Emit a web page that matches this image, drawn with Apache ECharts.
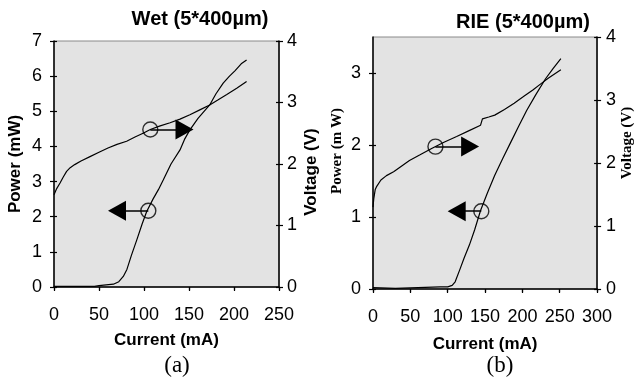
<!DOCTYPE html>
<html>
<head>
<meta charset="utf-8">
<script src="https://cdn.jsdelivr.net/npm/echarts@6/dist/echarts.min.js"></script>
<style>
  html, body { margin: 0; padding: 0; background: #fff; }
  #chart { width: 636px; height: 383px; }
</style>
</head>
<body>
<div id="chart"></div>
<script>
// (a) wet etched: [current mA, power mW] and [current mA, voltage V]
const wetPower = [
    [0, 0.02], [20, 0.02], [45, 0.02], [50, 0.04], [58, 0.06], [66, 0.08], [72, 0.15],
    [77, 0.3], [81, 0.5], [86, 0.9], [92, 1.34], [98, 1.8], [103, 2.15], [110, 2.5],
    [116, 2.77], [121.5, 3.05], [130, 3.5], [140, 3.9], [145, 4.2], [151, 4.47],
    [160, 4.8], [173, 5.18], [180, 5.5], [188, 5.8], [195, 6.0], [201, 6.15],
    [208, 6.35], [214, 6.46],
];
const wetVoltage = [
    [0, 1.5], [3, 1.6], [6.7, 1.69], [10, 1.78], [14, 1.88], [18, 1.94], [23, 1.99],
    [30, 2.05], [40, 2.12], [50, 2.19], [60, 2.26], [70, 2.32], [80.7, 2.37], [90, 2.44],
    [99, 2.5], [107, 2.56], [118, 2.62], [129, 2.67], [140, 2.73], [151, 2.8],
    [162, 2.88], [173, 2.96], [182, 3.04], [192, 3.13], [203, 3.23], [214, 3.34],
];
// (b) RIE
const riePower = [
    [0, 0.02], [30, 0.01], [60, 0.02], [90, 0.03], [100, 0.03], [106, 0.05], [110, 0.1],
    [116.6, 0.28], [122, 0.43], [129, 0.61], [136, 0.82], [144, 1.09], [153, 1.33],
    [163, 1.58], [174, 1.82], [184.5, 2.04], [195, 2.26], [205.7, 2.48], [218, 2.7],
    [231, 2.92], [241, 3.06], [251.5, 3.2],
];
const rieVoltage = [
    [0, 1.3], [1, 1.43], [3, 1.58], [5, 1.63], [10.6, 1.73], [18, 1.8], [27.6, 1.86],
    [38, 1.95], [48.8, 2.04], [63, 2.13], [78.5, 2.23], [95, 2.33], [112, 2.42],
    [128, 2.51], [144, 2.6], [146, 2.61], [146.5, 2.7], [155, 2.73], [163, 2.76],
    [176, 2.85], [189, 2.95], [201, 3.05], [214, 3.16], [225, 3.26], [235, 3.35],
    [251.5, 3.48],
];

// annotation circles [current, value] and arrow head positions (current)
const wetVoltCircle = [107, 2.56], wetVoltArrowTo = 145;
const wetPowCircle = [104.8, 2.17], wetPowArrowTo = 70;
const rieVoltCircle = [83.6, 2.26], rieVoltArrowTo = 130;
const riePowCircle = [145, 1.08], riePowArrowTo = 112;

const wetXTicks = [0, 250, 50];
const rieXTicks = [0, 300, 50];
const titles = ['Wet (5*400µm)', 'RIE (5*400µm)'];
const captions = ['(a)', '(b)'];

const sans = '"Liberation Sans", Arial, sans-serif';
const serif = '"Liberation Serif", "Times New Roman", serif';

const axisLabel = (margin, extra) => ({
    color: '#000', fontFamily: sans, fontSize: 18, margin, ...extra,
});
const tickOut = {show: true, length: 4, lineStyle: {color: '#000', width: 1.2}};
const tickIn = {show: true, inside: true, length: 3, lineStyle: {color: '#000', width: 1.2}};
const line = {show: true, lineStyle: {color: '#000', width: 1.5}};

function xAxes(gridIndex, [min, max, interval], nameGap, margin) {
    const base = {type: 'value', gridIndex, min, max, interval, splitLine: {show: false}};
    return [{
        ...base,
        name: 'Current (mA)', nameLocation: 'middle', nameGap,
        nameTextStyle: {fontFamily: sans, fontWeight: 'bold', fontSize: 17, color: '#000'},
        axisLine: line, axisTick: tickOut, axisLabel: axisLabel(margin),
    }, {
        ...base, axisLine: {show: false}, axisTick: tickIn, axisLabel: {show: false},
    }];
}

function yAxes(gridIndex, position, min, max, name, nameGap, nameFont, margin, padding, custom) {
    const base = {type: 'value', gridIndex, position, min, max, interval: 1, splitLine: {show: false}};
    const lbl = axisLabel(margin);
    const tOut = {...tickOut}, tIn = {...tickIn};
    if (custom) {
        lbl.customValues = custom;
        tOut.customValues = custom;
        tIn.customValues = custom;
    }
    return [{
        ...base, name, nameLocation: 'middle', nameGap,
        nameTextStyle: {fontFamily: nameFont, fontWeight: 'bold', fontSize: nameFont === serif ? 15 : 17,
            color: '#000', padding},
        axisLine: line, axisTick: tOut, axisLabel: lbl,
    }, {
        ...base, axisLine: {show: false}, axisTick: tIn, axisLabel: {show: false},
    }];
}

const curve = (data, xAxisIndex, yAxisIndex) => ({
    type: 'line', data, xAxisIndex, yAxisIndex, showSymbol: false, symbol: 'none',
    lineStyle: {color: '#000', width: 1.2}, animation: false, silent: true, z: 3,
});

function annotation(circle, arrowTo, xAxisIndex, yAxisIndex) {
    return {
        type: 'scatter', data: [circle], xAxisIndex, yAxisIndex, symbol: 'circle', symbolSize: 15,
        itemStyle: {color: 'rgba(0,0,0,0)', borderColor: '#000', borderWidth: 1.4},
        animation: false, silent: true, z: 4,
        markLine: {
            silent: true, animation: false, symbol: ['none', 'triangle'], symbolSize: [20, 18],
            label: {show: false}, lineStyle: {color: '#000', width: 1.5, type: 'solid'},
            data: [[{coord: circle}, {coord: [arrowTo, circle[1]]}]],
        },
    };
}

const chart = echarts.init(document.getElementById('chart'), null, {renderer: 'canvas'});
chart.setOption({
    backgroundColor: '#fff',
    animation: false,
    grid: [
        {left: 54, top: 41, width: 225, height: 246, show: true, backgroundColor: '#e3e3e3',
            borderColor: '#8a8a8a', borderWidth: 1},
        {left: 373, top: 37, width: 235, height: 252, show: true, backgroundColor: '#e3e3e3',
            borderColor: '#8a8a8a', borderWidth: 1},
    ],
    xAxis: [
        ...xAxes(0, wetXTicks, 45, 19),
        ...xAxes(1, rieXTicks, 47, 19),
    ],
    yAxis: [
        ...yAxes(0, 'left', 0, 7, 'Power (mW)', 30, sans, 12, [0, 0, 0, 0]),
        ...yAxes(0, 'right', 0, 4, 'Voltage (V)', 24, sans, 8, [0, 16, 0, 0]),
        ...yAxes(1, 'left', 0, 3.5, 'Power (m W)', 28, serif, 12, [0, 0, 0, 24], [0, 1, 2, 3]),
        ...yAxes(1, 'right', 0, 4, 'Voltage (V)', 17, serif, 9, [0, 0, 0, 40]),
    ],
    series: [
        curve(wetPower, 0, 0),
        curve(wetVoltage, 0, 2),
        curve(riePower, 2, 4),
        curve(rieVoltage, 2, 6),
        annotation(wetVoltCircle, wetVoltArrowTo, 0, 2),
        annotation(wetPowCircle, wetPowArrowTo, 0, 0),
        annotation(rieVoltCircle, rieVoltArrowTo, 2, 6),
        annotation(riePowCircle, riePowArrowTo, 2, 4),
    ],
    graphic: [
        {type: 'text', x: 200, y: 19, style: {text: titles[0], font: 'bold 20px ' + sans,
            align: 'center', verticalAlign: 'middle', textAlign: 'center', textVerticalAlign: 'middle', fill: '#000'}},
        {type: 'text', x: 523, y: 22, style: {text: titles[1], font: 'bold 20px ' + sans,
            align: 'center', verticalAlign: 'middle', textAlign: 'center', textVerticalAlign: 'middle', fill: '#000'}},
        {type: 'text', x: 177, y: 366, style: {text: captions[0], font: '23px ' + serif,
            align: 'center', verticalAlign: 'middle', textAlign: 'center', textVerticalAlign: 'middle', fill: '#000'}},
        {type: 'text', x: 500, y: 366, style: {text: captions[1], font: '23px ' + serif,
            align: 'center', verticalAlign: 'middle', textAlign: 'center', textVerticalAlign: 'middle', fill: '#000'}},
    ],
});
</script>
</body>
</html>
